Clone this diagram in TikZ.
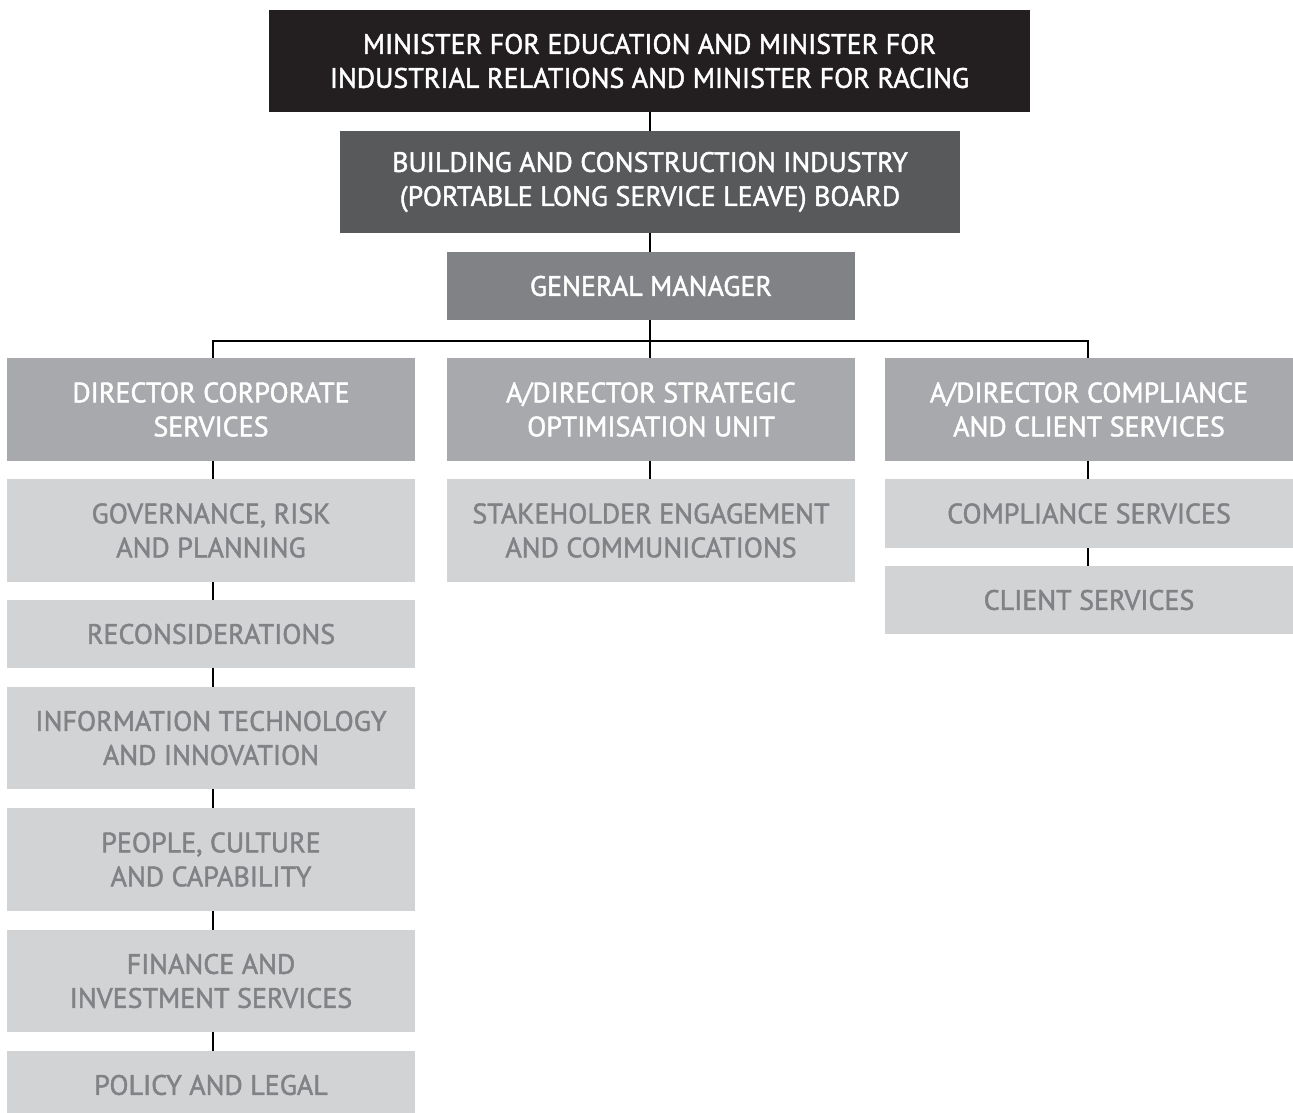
\documentclass[tikz,border=0pt]{standalone}
\usepackage{fontspec}
\newfontfamily\chartfont{PT Sans}[BoldFont={PT Sans}, BoldFeatures={FakeBold=1.6}]
\definecolor{boxblack}{HTML}{231F20}
\definecolor{boxdark}{HTML}{58595B}
\definecolor{boxmid}{HTML}{808285}
\definecolor{boxlight}{HTML}{A7A9AC}
\definecolor{boxpale}{HTML}{D1D3D4}
\definecolor{palefont}{HTML}{808285}
\begin{document}
\begin{tikzpicture}[x=1pt,y=-1pt,
  every node/.style={inner sep=0pt, outer sep=0pt, align=center,
    font=\chartfont\bfseries\fontsize{28}{34}\selectfont},
  unit/.style={rectangle, minimum width=408pt, minimum height=#1},
  unit/.default=103pt,
  lead/.style={fill=boxlight, text=white},
  team/.style={fill=boxpale, text=palefont},
  link/.style={draw=black, line width=1.6pt}]
\useasboundingbox (0,0) rectangle (1293,1113);
\clip (0,0) rectangle (1293,1113);

% executive chain
\node[rectangle, minimum width=761pt, minimum height=102pt, fill=boxblack, text=white]
  (minister) at (649.5,61) {MINISTER FOR EDUCATION AND MINISTER FOR\\INDUSTRIAL RELATIONS AND MINISTER FOR RACING};
\node[rectangle, minimum width=620pt, minimum height=102pt, fill=boxdark, text=white]
  (board) at (650,182) {BUILDING AND CONSTRUCTION INDUSTRY\\(PORTABLE LONG SERVICE LEAVE) BOARD};
\node[unit=68pt, fill=boxmid, text=white] (gm) at (651,286) {GENERAL MANAGER};

% directors
\node[unit, lead] (dcs) at (211,409.5) {DIRECTOR CORPORATE\\SERVICES};
\node[unit, lead] (dso) at (651,409.5) {A/DIRECTOR STRATEGIC\\OPTIMISATION UNIT};
\node[unit, lead] (dcc) at (1089,409.5) {A/DIRECTOR COMPLIANCE\\AND CLIENT SERVICES};

% corporate services teams
\node[unit, team] (gov) at (211,530.5) {GOVERNANCE, RISK\\AND PLANNING};
\node[unit=68pt, team] (recon) at (211,634) {RECONSIDERATIONS};
\node[unit=102pt, team] (itin) at (211,738) {INFORMATION TECHNOLOGY\\AND INNOVATION};
\node[unit, team] (people) at (211,859.5) {PEOPLE, CULTURE\\AND CAPABILITY};
\node[unit=102pt, team] (fin) at (211,981) {FINANCE AND\\INVESTMENT SERVICES};
\node[unit=68pt, team] (policy) at (211,1085) {POLICY AND LEGAL};

% strategic optimisation team
\node[unit, team] (stake) at (651,530.5) {STAKEHOLDER ENGAGEMENT\\AND COMMUNICATIONS};

% compliance and client teams
\node[unit=69pt, team] (comp) at (1089,513.5) {COMPLIANCE SERVICES};
\node[unit=68pt, team] (client) at (1089,600) {CLIENT SERVICES};

% connectors
\coordinate (busC) at (650,341);
\coordinate (busL) at (213,341);
\coordinate (busR) at (1088,341);
\draw[link] (minister.south -| busC) -- (board.north -| busC);
\draw[link] (board.south -| busC) -- (gm.north -| busC);
\draw[link] (gm.south -| busC) -- (dso.north -| busC);
\draw[link] (busL |- dcs.north) -- (busL) -- (busR) -- (busR |- dcc.north);
\draw[link] (dso.south -| busC) -- (stake.north -| busC);
\foreach \a/\b in {dcs/gov, gov/recon, recon/itin, itin/people, people/fin, fin/policy}
  \draw[link] (\a.south -| busL) -- (\b.north -| busL);
\foreach \a/\b in {dcc/comp, comp/client}
  \draw[link] (\a.south -| busR) -- (\b.north -| busR);
\end{tikzpicture}
\end{document}
